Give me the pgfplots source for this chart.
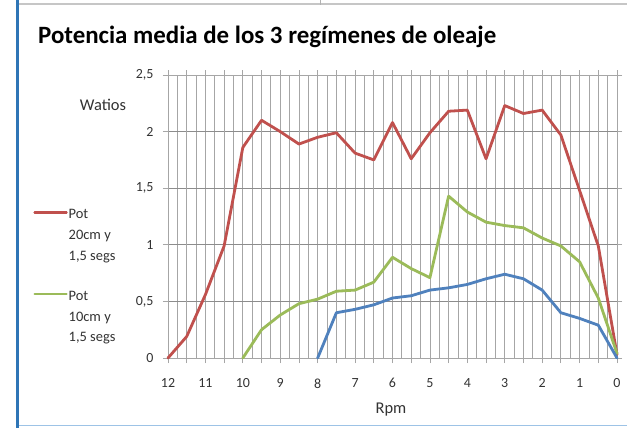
\documentclass[border=0pt]{standalone}
\usepackage{fontspec}
\setmainfont{Carlito}
\usepackage{pgfplots}
\pgfplotsset{compat=1.18}

\definecolor{serieRoja}{HTML}{C0504D}
\definecolor{serieVerde}{HTML}{9BBB59}
\definecolor{serieAzul}{HTML}{4F81BD}
\definecolor{rejilla}{HTML}{A6A6A6}
\definecolor{rejillaH}{HTML}{8C8C8C}
\definecolor{marcoAzul}{HTML}{2E75B6}
\definecolor{marcoClaro}{HTML}{9DC3E6}

% three-line legend text, baseline on the last line
\newcommand{\entrada}[3]{\parbox[b]{60bp}{\raggedright #1\par #2\par #3}}

\begin{document}
\begin{tikzpicture}[x=1bp,y=1bp]
\path[use as bounding box] (0,0) rectangle (627,-428);
\fill[white] (0,0) rectangle (627,-428);
% page frame
\draw[marcoAzul, line width=3bp] (17.5,0) -- (17.5,-428);
\draw[gray!45, line width=1.5bp] (19,-4) -- (627,-4);
\draw[gray!60, line width=1bp] (320,0) -- (320,-5);
\draw[marcoClaro, line width=1.5bp] (19,-425.5) -- (627,-425.5);

\node[anchor=west, font=\bfseries\fontsize{25}{30}\selectfont, inner sep=0pt] at (38,-37)
  {Potencia media de los 3 regímenes de oleaje};
\node[font=\fontsize{16.5}{20}\selectfont, text=black!80] at (103,-105) {Watios};
\node[font=\fontsize{16.5}{20}\selectfont, text=black!80] at (391,-410) {Rpm};

\begin{axis}[
  at={(168bp,-358bp)}, anchor=south west,
  scale only axis, width=449bp, height=283bp,
  xmin=0, xmax=12, ymin=0, ymax=2.5,
  x dir=reverse,
  xtick={0,...,12},
  minor x tick num=3,
  extra x ticks={0.5,1.5,...,11.5},
  extra x tick labels={},
  ytick={0,0.5,...,2.5},
  tick align=outside,
  major tick length=5bp,
  minor tick length=0pt,
  tick style={rejilla, line width=0.8bp},
  xmajorgrids, xminorgrids, ymajorgrids,
  major grid style={rejilla, line width=0.8bp},
  minor grid style={rejilla, line width=0.8bp},
  y grid style={rejillaH, line width=1bp},
  axis line style={rejilla, line width=0.8bp},
  /pgf/number format/use comma,
  /pgf/number format/assume math mode=true,
  tick label style={font=\fontsize{14}{16}\selectfont, text=black!80},
  xticklabel style={yshift=-12bp},
  yticklabel style={xshift=-6bp},
  clip=false,
  legend style={at={(axis description cs:-0.30,0.53)}, anchor=north west,
    draw=none, fill=none, font=\fontsize{14.5}{21}\selectfont,
    text=black!80, row sep=27bp, inner sep=0pt,
    nodes={inner sep=1bp}},
  legend cell align=left,
  legend image code/.code={\draw[#1, line width=2.2bp] (0bp,20bp+0.3em) -- (32bp,20bp+0.3em);},
  every axis plot/.append style={line width=2.8bp, line join=round, line cap=round},
]
\addplot[serieRoja] coordinates {
  (12,0) (11.5,0.19) (11,0.56) (10.5,0.99) (10,1.86) (9.5,2.10) (9,2.00)
  (8.5,1.89) (8,1.95) (7.5,1.99) (7,1.81) (6.5,1.75) (6,2.08) (5.5,1.76)
  (5,1.99) (4.5,2.18) (4,2.19) (3.5,1.76) (3,2.23) (2.5,2.16) (2,2.19)
  (1.5,1.97) (1,1.48) (0.5,0.99) (0,0.03)
};
\addlegendentry{\entrada{Pot}{20cm y}{1,5 segs}}
\addplot[serieVerde] coordinates {
  (10,0) (9.5,0.25) (9,0.38) (8.5,0.48) (8,0.52) (7.5,0.59) (7,0.60)
  (6.5,0.67) (6,0.89) (5.5,0.79) (5,0.71) (4.5,1.43) (4,1.29) (3.5,1.20)
  (3,1.17) (2.5,1.15) (2,1.06) (1.5,0.99) (1,0.85) (0.5,0.53) (0,0.04)
};
\addlegendentry{\entrada{Pot}{10cm y}{1,5 segs}}
\addplot[serieAzul, forget plot] coordinates {
  (8,0) (7.5,0.40) (7,0.43) (6.5,0.47) (6,0.53) (5.5,0.55) (5,0.60)
  (4.5,0.62) (4,0.65) (3.5,0.70) (3,0.74) (2.5,0.70) (2,0.60) (1.5,0.40)
  (1,0.35) (0.5,0.29) (0,0)
};
\end{axis}
\end{tikzpicture}
\end{document}
